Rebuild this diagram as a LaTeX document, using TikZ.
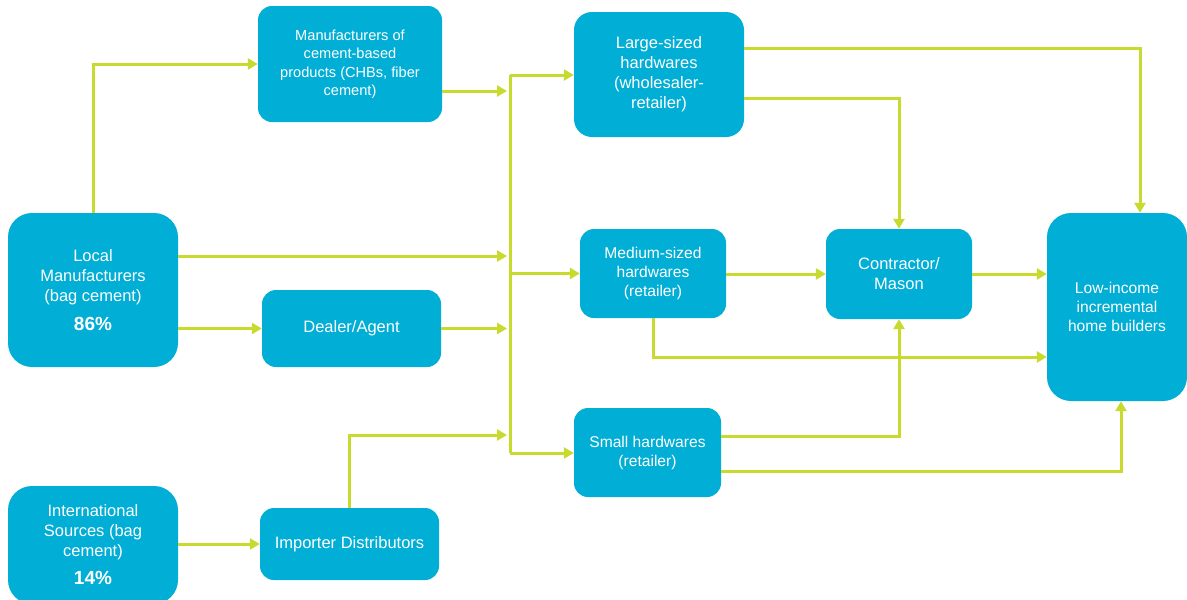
\documentclass[tikz,border=0pt]{standalone}
\usepackage{fontspec}
\setmainfont{Liberation Sans}
\usetikzlibrary{arrows.meta}
\definecolor{boxblue}{RGB}{0,174,214}
\definecolor{flowgreen}{RGB}{200,218,46}
\tikzset{
  box/.style={draw=none, fill=boxblue, text=white, align=center, rounded corners=14pt,
              inner sep=2pt, font=\fontsize{16.5}{20}\selectfont},
  midfont/.style={font=\fontsize{15.6}{19}\selectfont},
  bigbox/.style={box, rounded corners=24pt},
  flow/.style={draw=flowgreen, line width=3pt},
  arr/.style={flow, -{Triangle[length=10pt,width=11pt]}},
}
\begin{document}
\begin{tikzpicture}[x=1pt,y=-1pt]
\useasboundingbox (0,0) rectangle (1187,600);
\fill[white] (0,0) rectangle (1187,600);

% nodes
\node[bigbox, minimum width=170pt, minimum height=154pt] (lm) at (93,290)
  {Local\\Manufacturers\\(bag cement)\\[9pt]{\bfseries\fontsize{19}{21}\selectfont 86\%}};
\node[bigbox, minimum width=170pt, minimum height=118pt] (is) at (93,545)
  {International\\Sources (bag\\cement)\\[8pt]{\bfseries\fontsize{19}{21}\selectfont 14\%}};
\node[box, minimum width=184pt, minimum height=116pt, font=\fontsize{14.6}{18.5}\selectfont] (mcb) at (350,64)
  {Manufacturers of\\cement-based\\products (CHBs, fiber\\cement)};
\coordinate (mcbtxt) at (350,66);
\node[box, minimum width=179pt, minimum height=77pt] (dealer) at (351.5,328.5) {Dealer/Agent};
\node[box, minimum width=179pt, minimum height=72pt] (imp) at (349.5,544) {Importer Distributors};
\node[bigbox, rounded corners=18pt, minimum width=170pt, minimum height=125pt] (large) at (659,74.5)
  {Large-sized\\hardwares\\(wholesaler-\\retailer)};
\node[box, midfont, minimum width=146pt, minimum height=89pt] (med) at (653,273.5)
  {Medium-sized\\hardwares\\(retailer)};
\node[box, midfont, minimum width=147pt, minimum height=89pt] (small) at (647.5,452.5)
  {Small hardwares\\(retailer)};
\node[box, minimum width=146pt, minimum height=90pt] (con) at (899,274)
  {Contractor/\\Mason};
\node[bigbox, midfont, minimum width=140pt, minimum height=188pt] (low) at (1117,307)
  {Low-income\\incremental\\home builders};

% helper coordinates
\coordinate (bt) at (510,75);
\coordinate (bb) at (510,453);
\coordinate (tipx) at (507,0);
\coordinate (ylm1) at (0,256);
\coordinate (ymcb) at (0,91);
\coordinate (yimp) at (0,435);
\coordinate (l1) at (1140,48);
\coordinate (l2) at (0,98);
\coordinate (ymed) at (0,357);
\coordinate (s1) at (0,436);
\coordinate (s2) at (1121,471);

% connectors
\draw[arr] (lm.north) |- (mcb.west);
\draw[arr] (lm.east |- ylm1) -- (tipx |- ylm1);
\draw[arr] (lm.east |- dealer.west) -- (dealer.west);
\draw[arr] (dealer.east) -- (tipx |- dealer.east);
\draw[arr] (mcb.east |- ymcb) -- (tipx |- ymcb);
\draw[arr] (imp.north) |- (tipx |- yimp);
\draw[arr] (is.east |- imp.west) -- (imp.west);

\draw[flow] (bt) -- (bb);
\draw[arr] (bt) -- (bt -| large.west);
\draw[arr] (bt |- med.west) -- (med.west);
\draw[arr] (bb) -- (bb -| small.west);

\draw[arr] (large.east |- l1) -| (l1 |- low.north);
\draw[arr] (large.east |- l2) -| (con.north);
\draw[arr] (med.east |- con.west) -- (con.west);
\draw[arr] (med.south) |- (low.west |- ymed);
\draw[arr] (con.east) -- (con.east -| low.west);
\draw[arr] (small.east |- s1) -| (con.south);
\draw[arr] (small.east |- s2) -| (s2 |- low.south);
\end{tikzpicture}
\end{document}
